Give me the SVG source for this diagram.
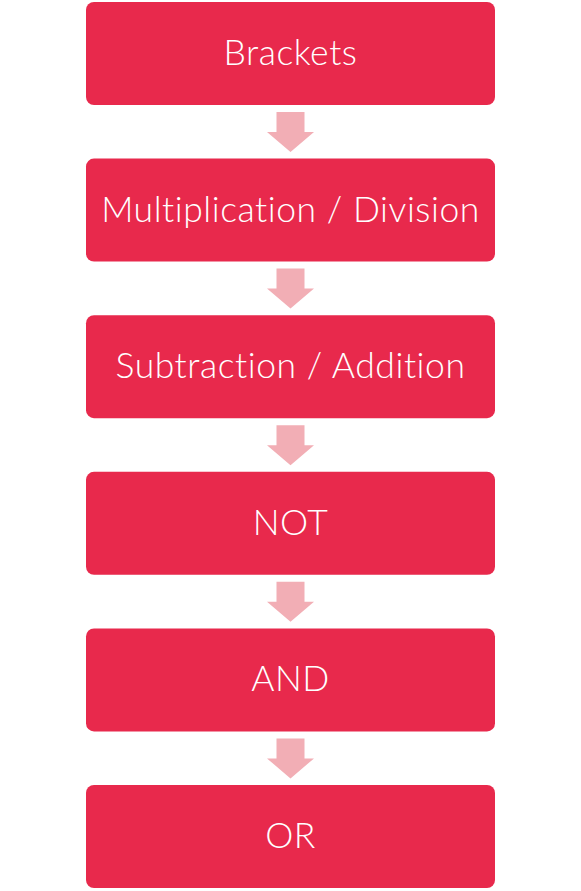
<svg xmlns="http://www.w3.org/2000/svg" width="581" height="891" viewBox="0 0 581 891">
<style>
.box{fill:#E8294C}
.lbl{fill:#FFFFFF;font-family:Lato,"Open Sans","Liberation Sans",sans-serif;font-size:35.5px;font-weight:300;letter-spacing:0.55px;text-anchor:middle}
.arr{fill:#F2AEB5}
</style>
<defs>
<path id="ar" d="M-14,0 H14 V20 H23.5 L0,40 L-23.5,20 H-14 Z"/>
</defs>
<rect width="581" height="891" fill="#FFFFFF"/>
<g id="connectors">
<use href="#ar" class="arr" x="290.5" y="112"/>
<use href="#ar" class="arr" x="290.5" y="268.6"/>
<use href="#ar" class="arr" x="290.5" y="425.2"/>
<use href="#ar" class="arr" x="290.5" y="581.8"/>
<use href="#ar" class="arr" x="290.5" y="738.4"/>
</g>
<g id="n1"><rect class="box" x="86" y="2" width="409" height="103" rx="8"/><text class="lbl" x="290.5" y="65">Brackets</text></g>
<g id="n2"><rect class="box" x="86" y="158.6" width="409" height="103" rx="8"/><text class="lbl" x="290.5" y="221.6">Multiplication / Division</text></g>
<g id="n3"><rect class="box" x="86" y="315.2" width="409" height="103" rx="8"/><text class="lbl" x="290.5" y="378.2">Subtraction / Addition</text></g>
<g id="n4"><rect class="box" x="86" y="471.8" width="409" height="103" rx="8"/><text class="lbl" x="290.5" y="534.8">NOT</text></g>
<g id="n5"><rect class="box" x="86" y="628.4" width="409" height="103" rx="8"/><text class="lbl" x="290.5" y="691.4">AND</text></g>
<g id="n6"><rect class="box" x="86" y="785" width="409" height="103" rx="8"/><text class="lbl" x="290.5" y="848">OR</text></g>
</svg>
